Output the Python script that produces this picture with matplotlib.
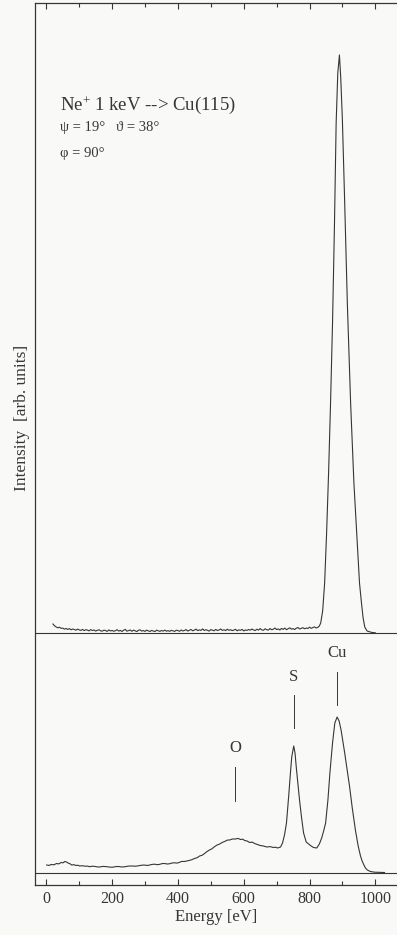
import matplotlib
matplotlib.use("Agg")
import matplotlib.pyplot as plt
import numpy as np

# ---------------- data ----------------
# Upper spectrum: Ne+ 1 keV -> Cu(115), clean surface (arb. units)
# background channels 20..825 eV, 5 eV step
E_top_bg = list(range(20, 830, 5))
I_top_bg = [9.0, 7.2, 6.0, 5.2, 5.8, 4.6, 4.9, 3.8, 4.5, 3.6, 4.4, 3.2,
            4.0, 3.5, 2.8, 3.9, 3.1, 2.6, 3.6, 2.4, 3.3, 2.9, 2.1, 3.4,
            2.5, 3.0, 1.9, 2.7, 3.2, 2.2, 1.8, 2.9, 2.4, 1.6, 3.1, 2.0,
            2.6, 1.7, 2.3, 3.3, 1.9, 2.6, 1.5, 2.8, 3.6, 1.8, 2.4, 3.0,
            1.7, 2.9, 2.2, 1.4, 2.7, 3.2, 1.9, 2.5, 1.6, 2.9, 2.1, 1.5,
            2.6, 2.0, 1.4, 2.8, 2.3, 1.6, 2.5, 1.9, 2.9, 1.8, 2.4, 1.6,
            2.7, 2.1, 1.6, 2.8, 2.4, 1.7, 3.0, 2.0, 2.6, 3.4, 1.9, 2.8,
            3.5, 2.2, 2.9, 3.9, 2.4, 3.1, 2.6, 4.1, 2.5, 3.3, 2.7, 1.9,
            3.4, 2.8, 2.2, 3.6, 2.5, 3.0, 4.0, 2.6, 3.2, 2.4, 3.8, 2.7,
            3.3, 2.4, 2.9, 3.7, 2.2, 3.1, 2.7, 3.6, 2.1, 3.0, 2.6, 3.5,
            2.8, 4.0, 3.0, 2.5, 3.8, 2.9, 4.4, 3.1, 2.7, 4.2, 3.3, 2.9,
            4.5, 3.2, 3.8, 5.0, 3.4, 4.1, 3.0, 4.6, 3.6, 4.9, 3.3, 4.3,
            5.2, 3.8, 4.4, 3.5, 4.8, 5.5, 4.0, 4.6, 5.3, 4.2, 5.0, 4.5,
            5.8, 4.7, 5.4, 6.1, 5.0, 5.6]
# Cu peak region
E_top_pk = [830, 834, 840, 846, 852, 858, 864, 870, 876, 881, 886, 891, 895, 900,
            907, 915, 925, 935, 945, 952, 958, 963, 968, 975, 990, 1000]
I_top_pk = [7.0, 10, 22, 50, 100, 160, 230, 310, 410, 510, 560, 578, 555, 513,
            430, 330, 230, 150, 90, 50, 30, 15, 6, 2, 0.5, 0.2]

# Lower spectrum: with O and S adsorbates (arb. units)
E_bot = [1, 8, 15, 23, 31, 38, 45, 51, 56, 61, 66, 72, 77, 84, 90, 96, 101, 109, 117,
         125, 132, 140, 147, 155, 162, 172, 182, 192, 202, 211, 220, 229, 238, 249,
         260, 272, 284, 292, 300, 307, 314, 322, 330, 337, 344, 352, 360, 367, 374,
         382, 390, 398, 405, 412, 420, 428, 435, 443, 450, 458, 466, 474, 481, 489,
         496, 503, 510, 518, 527, 535, 542, 550, 557, 566, 575, 583, 590, 597, 603,
         611, 618, 626, 633, 642, 650, 660, 670, 680, 690, 697, 703,
         712, 718, 724, 730, 737, 742, 746, 752, 756, 760, 765, 770, 776, 782, 790,
         803, 812, 822, 830, 837, 843, 849, 856, 862, 870, 877, 884, 890, 896, 907,
         915, 922, 930, 940, 948, 955, 960, 964, 970, 976, 985, 998, 1028]
I_bot = [8.0, 7.6, 8.5, 8.2, 9.5, 9.1, 10.5, 10.2, 11.5, 11.0, 10.0, 9.2, 8.0, 8.3, 7.5, 7.8, 7.0, 7.3, 6.8,
         6.9, 6.3, 6.8, 6.6, 6.1, 6.0, 6.6, 6.4, 5.9, 5.8, 6.4, 6.5, 6.0, 6.2, 6.9,
         7.0, 6.8, 7.4, 7.9, 7.9, 7.5, 8.0, 8.6, 8.8, 8.3, 8.6, 9.4, 9.5, 9.0, 9.2,
         10.0, 10.2, 9.9, 10.8, 11.6, 11.5, 12.1, 12.6, 13.4, 14.5, 15.2, 17.0, 17.8, 19.5, 21.6,
         23.0, 24.1, 26.0, 27.8, 29.0, 30.6, 31.5, 32.9, 33.0, 34.0, 34.0, 34.6, 33.5, 33.8, 32.5,
         31.9, 30.5, 30.9, 29.5, 28.4, 27.5, 27.0, 26.0, 26.4, 25.5, 25.8, 25.0,
         26.0, 30.0, 38.0, 50.0, 78.0, 100.0, 116.0, 127.0, 120.0, 105.0, 88.0, 72.0, 55.0, 40.0, 31.0,
         27.5, 25.5, 25.0, 29.0, 35.0, 42.0, 50.0, 73.0, 100.0, 130.0, 150.0, 156.0, 152.0, 143.0, 120.0,
         102.0, 86.0, 65.0, 42.0, 27.0, 17.0, 12.0, 9.0, 5.0, 3.0, 1.5, 0.8, 0.5]

peak_labels = ["O", "S", "Cu"]
peak_energies = [575, 752, 884]

x_major = [0, 200, 400, 600, 800, 1000]
x_minor = [100, 300, 500, 700, 900]

title_lines = ["Ne$^{+}$ 1 keV --> Cu(115)",
               "\u03c8 = 19\u00b0   \u03d1 = 38\u00b0",
               "\u03c6 = 90\u00b0"]

# ---------------- style ----------------
plt.rcParams['font.family'] = ['Liberation Serif', 'DejaVu Serif']
plt.rcParams['mathtext.fontset'] = 'custom'
plt.rcParams['mathtext.rm'] = 'Liberation Serif'
plt.rcParams['mathtext.it'] = 'Liberation Serif:italic'

ink = '#363636'
bg = '#f9f9f7'

fig = plt.figure(figsize=(3.97, 9.35), dpi=100, facecolor=bg)
ax = fig.add_axes([35/397, 1 - 885/935, 1 - 35/397, (885 - 3)/935])
ax.set_facecolor(bg)

top_offset = 240.0  # vertical offset of the upper spectrum baseline

ax.set_xlim(-34.5, 1066)
ax.set_ylim(-12, 870)

# baselines
ax.axhline(0, color=ink, lw=0.8)
ax.axhline(top_offset, color=ink, lw=0.8)

E_top = E_top_bg + E_top_pk
I_top = I_top_bg + I_top_pk
ax.plot(E_top, np.array(I_top) + top_offset, color=ink, lw=0.8)
ax.plot(E_bot, I_bot, color=ink, lw=0.8)

# peak markers
line_lo = [72, 145, 168]
line_hi = [106, 178, 201]
txt_y = [125, 196, 220]
for lab, e, lo, hi, ty in zip(peak_labels, peak_energies, line_lo, line_hi, txt_y):
    ax.plot([e, e], [lo, hi], color=ink, lw=0.7)
    ax.text(e, ty, lab, ha='center', va='center', fontsize=12, color=ink)

# annotation text
ax.text(40, 768, title_lines[0], ha='left', va='center', fontsize=13.5, color=ink)
ax.text(40, 745, title_lines[1], ha='left', va='center', fontsize=10.5, color=ink)
ax.text(40, 720, title_lines[2], ha='left', va='center', fontsize=10.5, color=ink)

# axes/spines
for s in ['left', 'bottom', 'top']:
    ax.spines[s].set_color(ink)
    ax.spines[s].set_linewidth(0.9)
ax.spines['right'].set_visible(False)

ax.set_xticks(x_major)
ax.set_xticks(x_minor, minor=True)
ax.set_yticks([])
ax.tick_params(axis='x', which='both', direction='in', top=True, bottom=True,
               colors=ink, labelsize=11.5, pad=4)
ax.tick_params(axis='x', which='major', length=4, width=0.8)
ax.tick_params(axis='x', which='minor', length=3, width=0.8)

ax.set_xlabel("Energy [eV]", fontsize=12, color=ink, labelpad=2)
ax.set_ylabel("Intensity  [arb. units]", fontsize=12.5, color=ink)
ax.yaxis.set_label_coords(-0.015, 1 - (418 - 3) / 882)

fig.savefig("out.png", dpi=100, facecolor=bg)
